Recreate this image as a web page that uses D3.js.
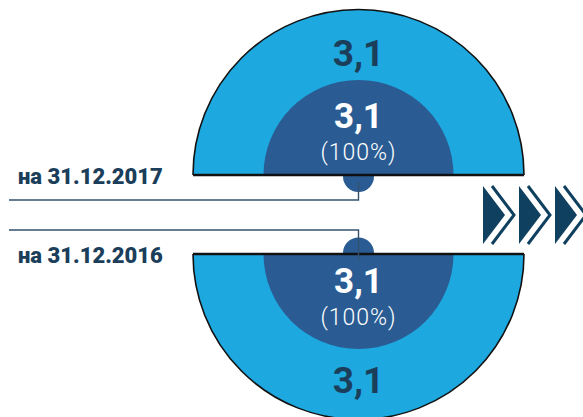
<!DOCTYPE html>
<html>
<head>
<meta charset="utf-8">
<script src="https://cdn.jsdelivr.net/npm/d3@7"></script>
<style>
  body { margin:0; background:#fff; }
  svg { display:block; }
  text { font-family: Roboto, "Open Sans", sans-serif; }
</style>
</head>
<body>
<svg id="chart" width="583" height="417"></svg>
<script>
// donnees
var dates = ["на 31.12.2017", "на 31.12.2016"];
var totals = [3.1, 3.1];      // anneau exterieur
var parts = [3.1, 3.1];       // demi-disque interieur
var shares = [100, 100];      // part en %

var svg = d3.select("#chart");
var fmt = d3.formatLocale({decimal: ",", thousands: " ", grouping: [3], currency: ["", ""]}).format(".1f");

// echelles
var rOuter = d3.scaleLinear().domain([0, 3.1]).range([0, 165.5]);
var rInner = d3.scaleLinear().domain([0, 3.1]).range([0, 95]);

var cx = 358.5;
var baseY = [175, 254];       // ligne de base de chaque demi-cercle

var cLight = "#1ea8e0", cDark = "#2a5c93", cText = "#1b3e5a";

for (var ii = 0; ii < dates.length; ii++) {
    var g = svg.append("g").attr("transform", "translate(" + cx + "," + baseY[ii] + ")");
    var a0 = ii == 0 ? -Math.PI / 2 : Math.PI / 2;
    var a1 = a0 + Math.PI;
    var ro = rOuter(totals[ii]), ri = rInner(parts[ii]);

    // petit cercle (connecteur)
    g.append("circle")
        .attr("cx", 0).attr("cy", ii == 0 ? 1.5 : -1)
        .attr("r", 15.5)
        .style("fill", cDark);

    g.append("path")
        .attr("d", d3.arc()({innerRadius: 0, outerRadius: ro, startAngle: a0, endAngle: a1}))
        .style("fill", cLight);
    g.append("path")
        .attr("d", d3.arc()({innerRadius: ro, outerRadius: ro, startAngle: a0, endAngle: a1}))
        .style("fill", "none").style("stroke", "#111").style("stroke-width", 1.6);
    g.append("path")
        .attr("d", d3.arc()({innerRadius: 0, outerRadius: ri, startAngle: a0, endAngle: a1}))
        .style("fill", cDark);

    // ligne de base
    g.append("line")
        .attr("x1", -ro).attr("x2", ro)
        .attr("y1", 0).attr("y2", 0)
        .style("stroke", "#111").style("stroke-width", 2.6);

    // textes
    var yOuterTxt = ii == 0 ? -109 : 139;
    var yInnerTxt = ii == 0 ? -47 : 39;
    g.append("text")
        .attr("x", 0).attr("y", yOuterTxt)
        .attr("text-anchor", "middle")
        .style("font-size", "37px").style("font-weight", "bold")
        .style("fill", cText)
        .text(fmt(totals[ii]));
    g.append("text")
        .attr("x", 0).attr("y", yInnerTxt)
        .attr("text-anchor", "middle")
        .style("font-size", "35px").style("font-weight", "bold")
        .style("fill", "#fff")
        .text(fmt(parts[ii]));
    g.append("text")
        .attr("x", 0).attr("y", yInnerTxt + 32)
        .attr("text-anchor", "middle")
        .style("font-size", "23px").style("font-weight", 300)
        .style("letter-spacing", "1px")
        .style("fill", "#fff")
        .text("(" + shares[ii] + "%)");

    // connecteur + libelle
    var yLine = ii == 0 ? 200 : 230;
    var yEnd = ii == 0 ? 182 : 260;
    svg.append("path")
        .attr("d", "M9," + yLine + "H" + cx + "V" + yEnd)
        .style("fill", "none").style("stroke", "#34516c").style("stroke-width", 1.4);
    svg.append("text")
        .attr("x", 18).attr("y", ii == 0 ? 184 : 263)
        .style("font-size", "22px").style("font-weight", 900)
        .style("fill", cText)
        .text(dates[ii]);
}

// fleches
var chev = [483, 519, 555];
chev.forEach(function(x) {
    svg.append("path")
        .attr("d", "M" + x + ",186L" + (x + 22) + ",215L" + x + ",244Z")
        .style("fill", "#0f405f");
    svg.append("path")
        .attr("d", "M" + (x + 9) + ",186L" + (x + 31) + ",215L" + (x + 9) + ",244")
        .style("fill", "none").style("stroke", "#0f405f").style("stroke-width", 3);
});
</script>
</body>
</html>
